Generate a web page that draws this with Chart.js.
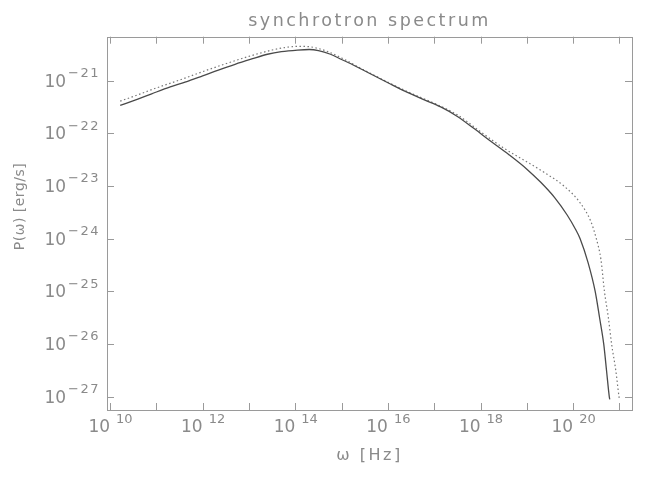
<!DOCTYPE html>
<html><head><meta charset="utf-8">
<script src="https://cdn.jsdelivr.net/npm/chart.js@4.4.0/dist/chart.umd.min.js"></script>
<style>html,body{margin:0;padding:0;background:#fff;}#wrap{width:664px;height:478px;}</style>
</head><body><div id="wrap"><canvas id="c" width="664" height="478"></canvas></div>
<script>
// ---- data (log10 values) ----
const TITLE = 'synchrotron spectrum';
const X_LABEL = 'ω [Hz]';
const Y_LABEL = 'P(ω) [erg/s]';
const X_RANGE_LOG = [9.935, 21.27];
const Y_RANGE_LOG = [-27.25, -20.167];
const X_TICK_EXP = [10, 11, 12, 13, 14, 15, 16, 17, 18, 19, 20, 21];
const X_LABEL_EXP = [10, 12, 14, 16, 18, 20];
const Y_TICK_EXP = [-27, -26, -25, -24, -23, -22, -21];
const Y_LABEL_EXP = [-27, -26, -25, -24, -23, -22, -21];

const SOLID_LOG_FREQ = [10.22,10.60,10.90,11.30,11.62,12.00,12.34,12.70,13.06,13.40,13.70,14.05,14.30,14.50,14.76,15.00,15.20,15.62,16.02,16.41,16.80,17.14,17.50,17.86,18.22,18.62,19.00,19.30,19.60,19.87,20.05,20.15,20.32,20.475,20.57,20.66,20.72,20.78,20.79];
const SOLID_LOG_POWER = [-21.47,-21.35,-21.25,-21.12,-21.03,-20.91,-20.80,-20.69,-20.59,-20.50,-20.45,-20.42,-20.41,-20.43,-20.50,-20.60,-20.68,-20.87,-21.05,-21.22,-21.37,-21.50,-21.68,-21.91,-22.15,-22.41,-22.68,-22.93,-23.22,-23.55,-23.82,-24.00,-24.45,-25.00,-25.50,-26.00,-26.50,-27.00,-27.05];

const DOTTED_LOG_FREQ = [10.22,10.60,11.00,11.50,12.00,12.50,13.00,13.50,13.80,14.10,14.40,14.70,15.00,15.40,16.00,16.50,17.00,17.50,18.00,18.50,18.94,19.37,19.80,20.16,20.38,20.50,20.60,20.675,20.76,20.83,20.92,20.99,21.00];
const DOTTED_LOG_POWER = [-21.39,-21.27,-21.14,-20.99,-20.83,-20.68,-20.54,-20.42,-20.37,-20.35,-20.37,-20.45,-20.57,-20.76,-21.03,-21.24,-21.43,-21.65,-21.97,-22.28,-22.51,-22.74,-23.00,-23.33,-23.67,-24.00,-24.40,-25.00,-25.50,-26.00,-26.50,-27.00,-27.05];

// ---- styling ----
const TEXT_COLOR = '#8a8a8a';
const AXIS_COLOR = '#9a9a9a';
const FONT = 'DejaVu Sans';
const toPts = (xs, ys) => xs.map((lx, i) => ({x: Math.pow(10, lx), y: Math.pow(10, ys[i])}));
const expText = e => String(e).replace('-', '\u2212');

const framePlugin = {
  id: 'frame',
  beforeDraw(chart) { chart.ctx.letterSpacing = '2.5px'; },
  afterDatasetsDraw(chart) {
    const {ctx, chartArea: a, scales: {x, y}} = chart;
    ctx.save();
    ctx.strokeStyle = AXIS_COLOR;
    ctx.lineWidth = 1;
    ctx.strokeRect(Math.round(a.left) + 0.5, Math.round(a.top) + 0.5, Math.round(a.right - a.left), Math.round(a.bottom - a.top));
    const TL = 7;
    ctx.beginPath();
    X_TICK_EXP.forEach(e => {
      const px = Math.round(x.getPixelForValue(Math.pow(10, e))) + 0.5;
      ctx.moveTo(px, a.bottom); ctx.lineTo(px, a.bottom - TL);
      ctx.moveTo(px, a.top); ctx.lineTo(px, a.top + TL);
    });
    Y_TICK_EXP.forEach(e => {
      const py = Math.round(y.getPixelForValue(Math.pow(10, e))) + 0.5;
      ctx.moveTo(a.left, py); ctx.lineTo(a.left + TL, py);
      ctx.moveTo(a.right, py); ctx.lineTo(a.right - TL, py);
    });
    ctx.stroke();

    ctx.fillStyle = TEXT_COLOR;
    ctx.textBaseline = 'middle';
    // x tick labels: "10" ends at the tick, exponent follows
    X_LABEL_EXP.forEach(e => {
      const px = x.getPixelForValue(Math.pow(10, e));
      ctx.letterSpacing = '0px';
      ctx.font = '17px "' + FONT + '"';
      ctx.textAlign = 'right';
      ctx.fillText('10', px, a.bottom + 18);
      ctx.font = '13px "' + FONT + '"';
      ctx.textAlign = 'left';
      ctx.fillText(expText(e), px + 6, a.bottom + 10);
    });
    // y tick labels: right aligned before the axis
    Y_LABEL_EXP.forEach(e => {
      const py = y.getPixelForValue(Math.pow(10, e));
      ctx.font = '13px "' + FONT + '"';
      ctx.letterSpacing = '1.5px';
      const we = ctx.measureText(expText(e)).width;
      const expStart = a.left - 7 - we;
      ctx.textAlign = 'left';
      ctx.fillText(expText(e), expStart, py - 7);
      ctx.letterSpacing = '0px';
      ctx.font = '17px "' + FONT + '"';
      ctx.textAlign = 'right';
      ctx.fillText('10', expStart - 2, py + 1.5);
    });
    // y axis title
    ctx.save();
    ctx.translate(20, 206.5);
    ctx.rotate(-Math.PI / 2);
    ctx.font = '14px "' + FONT + '"';
    ctx.letterSpacing = '0.5px';
    ctx.textAlign = 'center';
    ctx.fillText(Y_LABEL, 0, 0);
    ctx.restore();
    ctx.restore();
  }
};

Chart.defaults.font.family = FONT;
new Chart(document.getElementById('c'), {
  type: 'line',
  data: {
    datasets: [
      { label: 'solid', data: toPts(SOLID_LOG_FREQ, SOLID_LOG_POWER), borderColor: '#4a4a4a', borderWidth: 1.3,
        pointRadius: 0, fill: false, cubicInterpolationMode: 'monotone' },
      { label: 'dotted', data: toPts(DOTTED_LOG_FREQ, DOTTED_LOG_POWER), borderColor: '#777', borderWidth: 1.2,
        borderDash: [1.5, 2.5], pointRadius: 0, fill: false, cubicInterpolationMode: 'monotone' }
    ]
  },
  options: {
    responsive: false,
    devicePixelRatio: 1,
    animation: false,
    layout: { padding: { left: 0, right: 32, top: 0, bottom: 0 } },
    plugins: {
      legend: { display: false },
      tooltip: { enabled: false },
      title: { display: true, fullSize: false, text: TITLE, color: TEXT_COLOR,
        font: { family: FONT, size: 17.5, weight: 'normal', lineHeight: 1.2 },
        padding: { top: 11, bottom: 4.7 } }
    },
    scales: {
      x: {
        type: 'logarithmic', position: 'bottom',
        min: Math.pow(10, X_RANGE_LOG[0]), max: Math.pow(10, X_RANGE_LOG[1]),
        grid: { display: false }, border: { display: false },
        ticks: { display: false },
        afterBuildTicks(s) { s.ticks = X_TICK_EXP.map(e => ({ value: Math.pow(10, e) })); },
        afterFit(s) { s.height = 68; },
        title: { display: true, text: X_LABEL, color: TEXT_COLOR,
          font: { family: FONT, size: 16, weight: 'normal', lineHeight: 1.2 },
          padding: { top: 0, bottom: 12.4 } }
      },
      y: {
        type: 'logarithmic', position: 'left',
        min: Math.pow(10, Y_RANGE_LOG[0]), max: Math.pow(10, Y_RANGE_LOG[1]),
        grid: { display: false }, border: { display: false },
        ticks: { display: false },
        afterBuildTicks(s) { s.ticks = Y_TICK_EXP.map(e => ({ value: Math.pow(10, e) })); },
        afterFit(s) { s.width = 107; },
        title: { display: false, text: Y_LABEL }
      }
    }
  },
  plugins: [framePlugin]
});
</script></body></html>
